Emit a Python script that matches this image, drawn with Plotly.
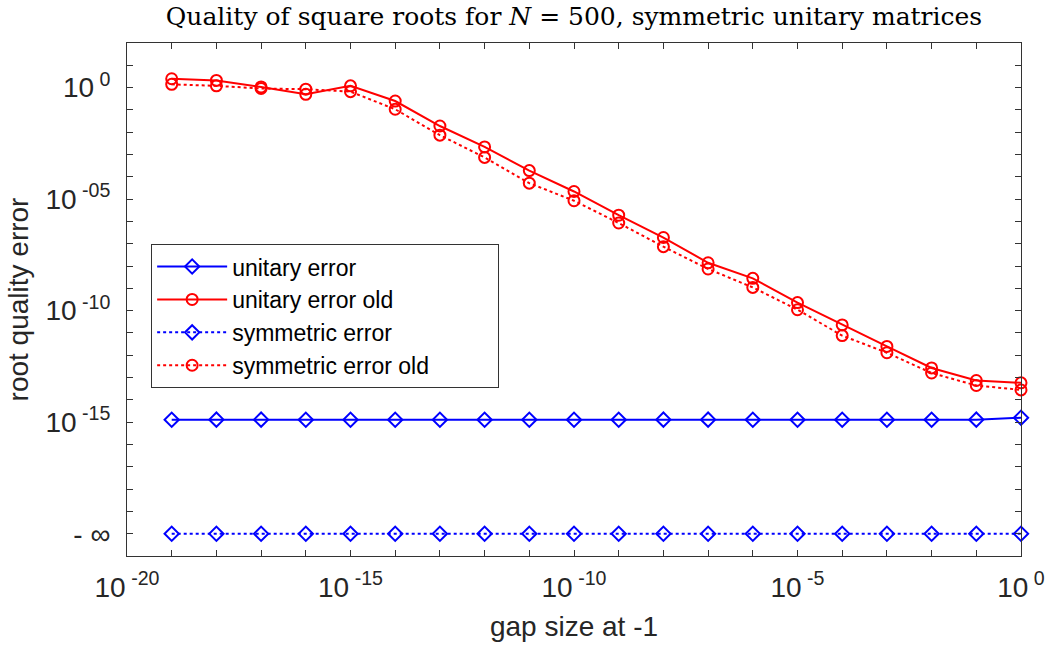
"""
Quality of square roots, N = 500 -- MATLAB-style log/log plot in Plotly.
"""
import plotly.graph_objects as go

# ── Data ────────────────────────────────────────────────────────────
gap_size = [1e-19, 1e-18, 1e-17, 1e-16, 1e-15, 1e-14, 1e-13, 1e-12, 1e-11, 1e-10,
            1e-9, 1e-8, 1e-7, 1e-6, 1e-5, 1e-4, 1e-3, 1e-2, 1e-1, 1e0]

unitary_error = [1.29e-15, 1.30e-15, 1.30e-15, 1.29e-15, 1.29e-15, 1.29e-15, 1.29e-15,
                 1.29e-15, 1.29e-15, 1.29e-15, 1.29e-15, 1.30e-15, 1.30e-15, 1.29e-15,
                 1.29e-15, 1.29e-15, 1.29e-15, 1.29e-15, 1.30e-15, 1.58e-15]

unitary_error_old = [2.5, 2.1, 1.07, 0.50, 1.2, 0.25, 1.9e-2, 2.2e-3, 1.9e-4, 2.2e-5,
                     1.9e-6, 1.9e-7, 1.4e-8, 2.8e-9, 2.3e-10, 2.3e-11, 2.5e-12, 2.7e-13,
                     7.4e-14, 5.8e-14]

# exactly zero -> drawn on the "-inf" row
symmetric_error = [0.0] * 20

symmetric_error_old = [1.4, 1.2, 0.91, 0.85, 0.66, 0.107, 7.4e-3, 7.4e-4, 5.2e-5, 8.5e-6,
                       8.5e-7, 7.4e-8, 7.4e-9, 1.1e-9, 1.1e-10, 7.6e-12, 1.3e-12, 1.6e-13,
                       4.4e-14, 2.8e-14]

NEG_INF_POS = 1e-20   # where zeros are drawn

x_tick_vals = [10.0 ** e for e in range(-20, 1)]
x_tick_text = ["10<sup> %d</sup>" % e if e % 5 == 0 else "" for e in range(-20, 1)]
y_tick_vals = [10.0 ** e for e in range(-21, 3)]
y_tick_labels = {0: "10<sup> 0</sup>", -5: "10<sup> -05</sup>", -10: "10<sup> -10</sup>",
                 -15: "10<sup> -15</sup>", -20: "- ∞"}
y_tick_text = [y_tick_labels.get(e, "") for e in range(-21, 3)]

BLUE = "#0000FF"
RED = "#FF0000"
AXIS = "#333333"
TEXT = "#262626"
FONT = "Liberation Sans, Arial, sans-serif"
PAD = "\u00a0" * 10   # widen the legend box like MATLAB's


def _zero_to_floor(vals):
    return [v if v > 0 else NEG_INF_POS for v in vals]


fig = go.Figure()

series = [
    ("unitary error", unitary_error, BLUE, "solid", "diamond-open", 11),
    ("unitary error old", unitary_error_old, RED, "solid", "circle-open", 11),
    ("symmetric error", symmetric_error, BLUE, "dot", "diamond-open", 11),
    ("symmetric error old" + PAD, symmetric_error_old, RED, "dot", "circle-open", 11),
]
for name, vals, color, dash, symbol, size in series:
    fig.add_trace(go.Scatter(
        x=gap_size,
        y=_zero_to_floor(vals),
        name=name,
        mode="lines+markers",
        line=dict(color=color, width=2, dash=dash),
        marker=dict(symbol=symbol, size=size, color=color, line=dict(color=color, width=2)),
        cliponaxis=False,
    ))

axis_common = dict(
    type="log",
    automargin=False,
    showgrid=False,
    zeroline=False,
    showline=True,
    linecolor=AXIS,
    linewidth=1,
    mirror="allticks",
    ticks="inside",
    ticklen=6,
    tickcolor=AXIS,
    tickfont=dict(family=FONT, size=28, color=TEXT),
    tickmode="array",
)

fig.update_layout(
    width=1045,
    height=648,
    paper_bgcolor="white",
    plot_bgcolor="white",
    margin=dict(l=127, r=24, t=43, b=92),
    font=dict(family=FONT, color=TEXT),
    title=dict(
        text="Quality of square roots for <i>N</i> = 500, symmetric unitary matrices",
        font=dict(family="DejaVu Serif, serif", size=25, color="black"),
        x=0.5, xref="paper", xanchor="center", y=0.975, yanchor="middle",
    ),
    xaxis=dict(
        axis_common,
        range=[-20, 0],
        tickvals=x_tick_vals,
        ticktext=x_tick_text,
        ticklabelstandoff=6,
        title=dict(text="gap size at -1", font=dict(family=FONT, size=28, color=TEXT),
                   standoff=14),
    ),
    yaxis=dict(
        axis_common,
        range=[-21, 2],
        tickvals=y_tick_vals,
        ticktext=y_tick_text,
        ticklabelstandoff=10,
        title=dict(text="root quality error", font=dict(family=FONT, size=28, color=TEXT),
                   standoff=8),
    ),
    legend=dict(
        x=0.027, y=0.608, xanchor="left", yanchor="top",
        bgcolor="white",
        bordercolor=AXIS,
        borderwidth=1,
        font=dict(family=FONT, size=23, color="black"),
        itemwidth=70,
        tracegroupgap=0,
    ),
    showlegend=True,
)

# the page's default 8px body margin would shift the whole figure
fig.write_html("out.html", config={"displayModeBar": False},
               post_script="document.body.style.margin='0';")
